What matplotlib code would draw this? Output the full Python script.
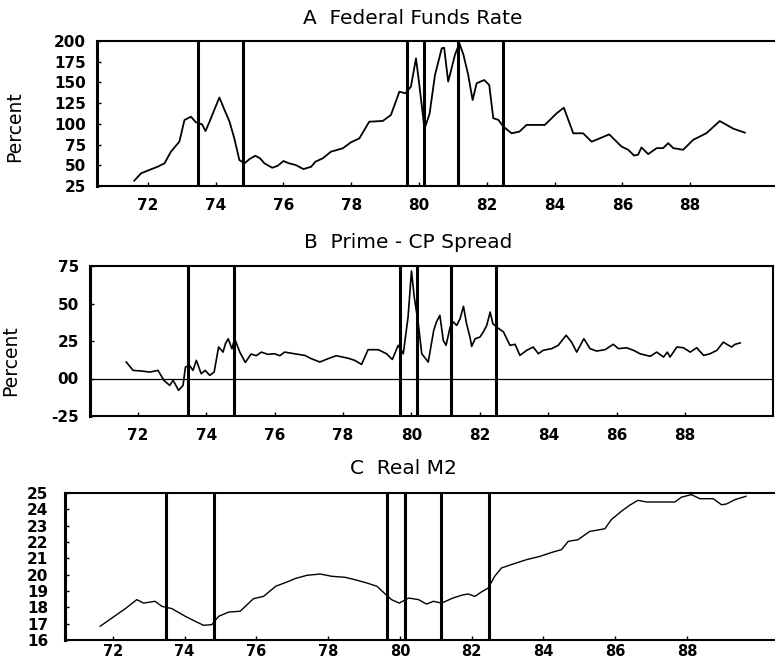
import matplotlib
matplotlib.use("Agg")
import matplotlib.pyplot as plt

# ---------------- data ----------------
fed_years = [71.95, 72.15, 72.39, 72.64, 72.84, 73.03, 73.28, 73.43, 73.62, 73.77, 73.95, 74.05,
             74.17, 74.31, 74.46, 74.61, 74.76, 74.90, 75.05, 75.20, 75.35, 75.52, 75.66, 75.79,
             76.02, 76.18, 76.35, 76.52, 76.72, 76.94, 77.17, 77.29, 77.51, 77.75, 78.10, 78.34,
             78.59, 78.88, 79.28, 79.52, 79.77, 79.95, 80.11, 80.26, 80.36, 80.51, 80.66, 80.82,
             81.02, 81.09, 81.21, 81.41, 81.54, 81.66, 81.80, 81.93, 82.05, 82.27, 82.42, 82.54,
             82.69, 82.84, 83.08, 83.31, 83.52, 83.82, 84.06, 84.41, 84.62, 84.90, 85.19, 85.44,
             85.68, 85.96, 86.32, 86.52, 86.69, 86.81, 86.91, 87.11, 87.36, 87.55, 87.70, 87.85,
             88.14, 88.44, 88.83, 89.22, 89.62, 89.96]
fed_values = [31.5, 40.3, 44.3, 48.3, 52.3, 66.4, 78.5, 104.6, 108.6, 101.8, 99.4, 91.3,
              102.6, 116.9, 131.8, 116.9, 102.6, 82.5, 56.3, 52.3, 57.5, 61.5, 58.4, 52.3,
              47.0, 49.4, 55.1, 52.3, 50.2, 45.4, 48.3, 54.3, 58.4, 66.4, 70.5, 77.7,
              82.5, 102.6, 103.5, 110.7, 138.8, 136.9, 144.9, 179.1, 146.5, 94.1, 112.0, 159.0,
              191.2, 191.9, 150.9, 183.4, 197.2, 183.4, 159.0, 128.8, 149.0, 152.9, 146.9, 106.8,
              104.8, 96.6, 88.6, 90.6, 98.7, 98.7, 98.7, 112.8, 119.5, 88.6, 88.6, 78.5,
              82.5, 87.3, 72.7, 68.7, 61.8, 62.7, 71.5, 63.5, 70.7, 70.7, 76.7, 70.7,
              68.7, 80.8, 88.8, 103.4, 94.2, 89.4]

spread_years = [72.01, 72.21, 72.45, 72.70, 72.94, 73.11, 73.28, 73.38, 73.54, 73.67, 73.74, 73.86,
                73.96, 74.06, 74.20, 74.32, 74.45, 74.58, 74.71, 74.84, 74.91, 74.99, 75.10, 75.18,
                75.33, 75.49, 75.66, 75.81, 75.96, 76.15, 76.35, 76.50, 76.64, 76.93, 77.23, 77.42,
                77.67, 77.91, 78.15, 78.50, 78.69, 78.89, 79.08, 79.38, 79.62, 79.79, 79.96, 80.11,
                80.25, 80.35, 80.43, 80.55, 80.65, 80.84, 81.00, 81.08, 81.18, 81.28, 81.36, 81.48,
                81.57, 81.67, 81.77, 81.87, 81.96, 82.06, 82.11, 82.21, 82.35, 82.45, 82.55, 82.65,
                82.73, 82.84, 83.04, 83.23, 83.38, 83.52, 83.72, 83.91, 84.06, 84.20, 84.45, 84.64,
                84.87, 85.03, 85.18, 85.39, 85.57, 85.76, 86.01, 86.25, 86.40, 86.64, 86.84, 87.03,
                87.33, 87.52, 87.72, 87.83, 87.91, 88.11, 88.30, 88.50, 88.69, 88.89, 89.08, 89.28,
                89.47, 89.57, 89.71, 89.81, 89.96]
spread_values = [11.0, 5.4, 5.0, 4.3, 5.4, -1.2, -4.6, -1.2, -7.9, -4.6, 7.6, 8.8,
                 5.4, 12.1, 3.2, 5.4, 2.1, 4.3, 21.0, 17.6, 23.2, 26.5, 19.8, 26.5,
                 17.6, 10.7, 16.3, 15.2, 17.6, 16.1, 16.5, 15.2, 17.6, 16.5, 15.4, 13.2,
                 11.0, 13.2, 15.2, 13.5, 12.1, 9.4, 19.2, 19.2, 16.5, 12.7, 22.1, 16.5,
                 41.0, 71.7, 54.3, 36.5, 16.5, 11.0, 32.1, 37.7, 42.1, 25.4, 22.1, 34.3,
                 37.7, 35.4, 39.8, 48.1, 36.5, 27.6, 21.4, 26.5, 27.6, 31.0, 35.4, 44.3,
                 36.5, 34.3, 31.0, 22.1, 22.8, 15.4, 18.8, 21.0, 16.5, 18.8, 19.9, 22.1,
                 28.8, 24.3, 17.6, 26.5, 19.9, 18.3, 19.2, 22.8, 19.9, 20.5, 18.8, 16.5,
                 14.8, 17.6, 14.3, 17.6, 14.3, 21.0, 20.5, 17.6, 20.5, 15.4, 16.5, 18.8,
                 24.3, 22.8, 21.0, 22.8, 23.7]

m2_years = [72.00, 72.33, 72.70, 73.02, 73.21, 73.53, 73.72, 74.00, 74.37, 74.65, 74.88, 75.11,
            75.30, 75.58, 75.90, 76.27, 76.55, 76.89, 77.25, 77.43, 77.76, 78.13, 78.45, 78.82,
            79.10, 79.43, 79.71, 79.94, 80.12, 80.33, 80.59, 80.87, 81.09, 81.28, 81.51, 81.83,
            82.07, 82.25, 82.44, 82.62, 82.81, 82.99, 83.18, 83.50, 83.88, 84.25, 84.62, 84.85,
            85.04, 85.31, 85.64, 86.06, 86.24, 86.52, 86.75, 86.98, 87.22, 87.59, 88.01, 88.19,
            88.47, 88.71, 89.08, 89.31, 89.45, 89.68, 89.99]
m2_values = [16.84, 17.35, 17.92, 18.47, 18.26, 18.37, 18.06, 17.92, 17.45, 17.14, 16.90, 16.94,
             17.45, 17.71, 17.76, 18.53, 18.67, 19.29, 19.59, 19.76, 19.96, 20.04, 19.90, 19.84,
             19.69, 19.49, 19.29, 18.82, 18.47, 18.26, 18.57, 18.47, 18.20, 18.37, 18.26, 18.57,
             18.74, 18.82, 18.67, 18.94, 19.18, 19.90, 20.41, 20.65, 20.92, 21.12, 21.39, 21.53,
             22.04, 22.14, 22.65, 22.81, 23.37, 23.88, 24.25, 24.55, 24.45, 24.45, 24.45, 24.74,
             24.90, 24.65, 24.65, 24.28, 24.33, 24.59, 24.80]

recession_dates = [70.87, 73.83, 75.17, 80.0, 80.5, 81.5, 82.83]

year_labels = ["72", "74", "76", "78", "80", "82", "84", "86", "88"]
year_ticks = [72.35, 74.35, 76.35, 78.35, 80.35, 82.35, 84.35, 86.35, 88.35]

fed_ticks = [25, 50, 75, 100, 125, 150, 175, 200]
fed_ticklabels = ["25", "50", "75", "100", "125", "150", "175", "200"]
spread_ticks = [-25, 0, 25, 50, 75]
spread_ticklabels = ["-25", "00", "25", "50", "75"]
m2_ticks = list(range(16, 26))
m2_ticklabels = [str(v) for v in m2_ticks]

titles = ["A  Federal Funds Rate", "B  Prime - CP Spread", "C  Real M2"]

# ---------------- figure ----------------
W, H = 775, 665
fig = plt.figure(figsize=(W / 100, H / 100), dpi=100)
fig.patch.set_facecolor("white")


def make_axes(left, right, top, bottom):
    return fig.add_axes([left / W, 1 - bottom / H, (right - left) / W, (bottom - top) / H])


axA = make_axes(97, 775, 41, 186)
axB = make_axes(90, 773, 266, 416)
axC = make_axes(65, 775, 493, 640)

tick_font = dict(fontsize=11, fontweight="bold", family="DejaVu Sans")


def style(ax, xlim, ylim, yticks, yticklabels, right_spine=False):
    ax.set_xlim(*xlim)
    ax.set_ylim(*ylim)
    ax.set_xticks(year_ticks)
    ax.set_xticklabels(year_labels, **tick_font)
    ax.set_yticks(yticks)
    ax.set_yticklabels(yticklabels, **tick_font)
    ax.tick_params(axis="both", direction="in", length=3, width=1, color="black")
    ax.tick_params(axis="x", pad=9)
    ax.tick_params(axis="y", pad=8)
    for s in ["top", "bottom"]:
        ax.spines[s].set_linewidth(1.5)
    ax.spines["left"].set_linewidth(2.2)
    ax.spines["right"].set_visible(right_spine)
    ax.spines["right"].set_linewidth(1.5)
    for d in recession_dates:
        if xlim[0] + 0.05 < d < xlim[1]:
            ax.axvline(d, color="black", lw=2.2)


style(axA, (70.85, 90.85), (25, 200), fed_ticks, fed_ticklabels)
axA.plot(fed_years, fed_values, color="black", lw=1.3)

style(axB, (70.95, 90.92), (-25, 75), spread_ticks, spread_ticklabels, right_spine=True)
axB.axhline(0, color="black", lw=0.9)
axB.plot(spread_years, spread_values, color="black", lw=1.2)

style(axC, (71.02, 90.80), (16, 25), m2_ticks, m2_ticklabels)
axC.tick_params(axis="y", pad=12)
axC.tick_params(axis="x", pad=3)
for lbl in axC.get_xticklabels():
    lbl.set_fontsize(10.5)
axC.plot(m2_years, m2_values, color="black", lw=1.0)

fig.text(413 / W, 1 - 18 / H, titles[0], ha="center", va="center", fontsize=14.5)
fig.text(408 / W, 1 - 242 / H, titles[1], ha="center", va="center", fontsize=14.5)
fig.text(403 / W, 1 - 468 / H, titles[2], ha="center", va="center", fontsize=14.5)

fig.text(15 / W, 1 - 127 / H, "Percent", rotation=90, ha="center", va="center", fontsize=13.5)
fig.text(11 / W, 1 - 361 / H, "Percent", rotation=90, ha="center", va="center", fontsize=13.5)

fig.savefig("out.png", dpi=100, facecolor="white")
